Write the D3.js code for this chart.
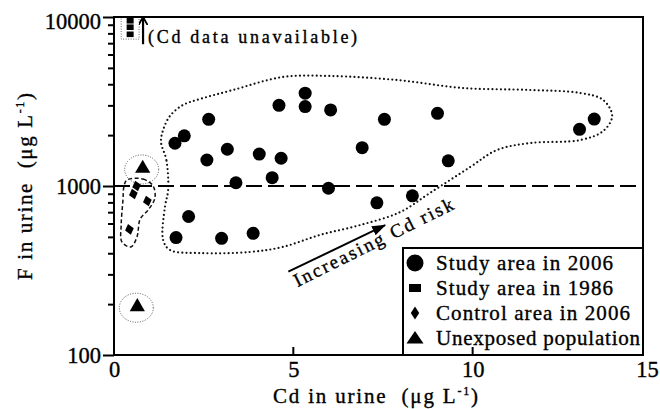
<!DOCTYPE html>
<html>
<head>
<meta charset="utf-8">
<script src="https://cdn.jsdelivr.net/npm/d3@7"></script>
<style>
  body { margin: 0; background: #fff; }
  svg { display: block; }
  svg text { font-family: "Liberation Serif", "DejaVu Serif", serif; fill: #000; stroke: #000; stroke-width: 0.35px; }
</style>
</head>
<body>
<div id="chart"></div>
<script>
// study area in 2006 (circles)
const studyCd2006 = [1.70, 1.96, 2.64, 2.59, 3.16, 3.40, 4.05, 4.66, 4.41, 4.60, 5.33, 5.33, 6.04,
  7.54, 9.02, 6.92, 9.32, 5.98, 7.33, 8.32, 2.08, 1.73, 3.00, 3.88, 13.39, 12.98]
const studyF2006 = [1790, 1980, 2480, 1425, 1650, 1045, 1545, 1460, 1120, 3000, 3540, 2950, 2820,
  2480, 2690, 1685, 1410, 970, 795, 875, 660, 495, 490, 525, 2490, 2165]

// study area in 1986 (squares, no Cd data)
const studyCd1986 = [0.45, 0.45, 0.45]
const studyF1986 = [9500, 8700, 7900]

// control area in 2006 (diamonds)
const controlCd = [0.54, 0.63, 0.93, 0.43]
const controlF = [897, 1000, 815, 554]

// unexposed population (triangles)
const unexposedCd = [0.80, 0.65]
const unexposedF = [1270, 193]

// hand drawn outlines, in data units
const studyHullCd = [1.51, 1.46, 1.31, 1.37, 1.56, 1.92, 2.40, 3.32, 4.71, 6.02, 7.89, 9.73, 11.60, 13.00,
  13.64, 13.89, 13.64, 13.00, 11.60, 10.68, 9.93, 8.81, 7.98, 6.86, 5.74, 4.71, 3.79, 2.40, 1.56, 1.37, 1.42]
const studyHullF = [946, 1425, 1820, 2143, 2595, 3013, 3271, 3700, 4416, 4477, 4238, 3800, 3700, 3550,
  3228, 2595, 2114, 1870, 1795, 1633, 1294, 909, 701, 587, 513, 436, 407, 401, 418, 479, 751]
const controlHullCd = [0.36, 0.81, 1.09, 1.14, 0.95, 0.73, 0.64, 0.47, 0.22, 0.20, 0.25, 0.28]
const controlHullF = [1085, 1099, 1000, 849, 721, 638, 499, 436, 467, 587, 826, 1000]

const xTicks = [0, 5, 10, 15]
const yMajor = [100, 1000, 10000]
const yMinor = [200, 300, 400, 500, 600, 700, 800, 900, 2000, 3000, 4000, 5000, 6000, 7000, 8000, 9000]
const thresholdF = 1000

const legendLabels = ["Study area in 2006", "Study area in 1986", "Control area in 2006", "Unexposed population"]
const legendWidths = [177, 177, 194, 204]

const width = 660, height = 409
const serif = "Liberation Serif, DejaVu Serif, serif"

const x = d3.scaleLinear().domain([0, 14.75]).range([114, 643])
const y = d3.scaleLog().domain([100, 10000]).range([355, 17])

const svg = d3.select("#chart").append("svg")
  .attr("width", width)
  .attr("height", height)
  .attr("font-family", serif)

const defs = svg.append("defs")
defs.append("marker")
  .attr("id", "head")
  .attr("viewBox", "0 -5 14 10")
  .attr("refX", 13)
  .attr("refY", 0)
  .attr("markerUnits", "userSpaceOnUse")
  .attr("markerWidth", 14)
  .attr("markerHeight", 10)
  .attr("orient", "auto")
  .append("path")
  .attr("d", "M0,-5L14,0L0,5Z")
  .attr("fill", "#000")
defs.append("marker")
  .attr("id", "headSmall")
  .attr("viewBox", "0 -4.5 8 9")
  .attr("refX", 7)
  .attr("refY", 0)
  .attr("markerUnits", "userSpaceOnUse")
  .attr("markerWidth", 8)
  .attr("markerHeight", 9)
  .attr("orient", "auto")
  .append("path")
  .attr("d", "M0,-4.5L8,0L0,4.5")
  .attr("fill", "none")
  .attr("stroke", "#000")
  .attr("stroke-width", 1.8)

// outlines

const hull = d3.line()
  .x(d => x(d[0]))
  .y(d => y(d[1]))
  .curve(d3.curveCatmullRomClosed.alpha(0.5))

svg.append("path")
  .attr("d", hull(d3.zip(studyHullCd, studyHullF)))
  .attr("fill", "none")
  .attr("stroke", "#111")
  .attr("stroke-width", 2.2)
  .attr("stroke-linecap", "round")
  .attr("stroke-dasharray", "0,4.2")

svg.append("path")
  .attr("d", hull(d3.zip(controlHullCd, controlHullF)))
  .attr("fill", "none")
  .attr("stroke", "#111")
  .attr("stroke-width", 1.5)
  .attr("stroke-dasharray", "4,2.5")

svg.selectAll(".ring")
  .data(d3.zip(unexposedCd, unexposedF))
  .join("ellipse")
  .attr("class", "ring")
  .attr("cx", d => x(d[0]) - 1)
  .attr("cy", d => y(d[1]) + 1)
  .attr("rx", 17)
  .attr("ry", 14.5)
  .attr("fill", "none")
  .attr("stroke", "#555")
  .attr("stroke-width", 1)
  .attr("stroke-dasharray", "1,1.5")

svg.append("rect")
  .attr("x", x(0.2))
  .attr("y", y(10000))
  .attr("width", x(0.7) - x(0.2))
  .attr("height", y(7400) - y(10000))
  .attr("fill", "none")
  .attr("stroke", "#666")
  .attr("stroke-width", 1)
  .attr("stroke-dasharray", "1,1.5")

// threshold line

svg.append("line")
  .attr("x1", x(0))
  .attr("x2", x(14.75))
  .attr("y1", y(thresholdF))
  .attr("y2", y(thresholdF))
  .attr("stroke", "#000")
  .attr("stroke-width", 2)
  .attr("stroke-dasharray", "16,6")

// points

svg.append("g")
  .selectAll("circle")
  .data(d3.zip(studyCd2006, studyF2006))
  .join("circle")
  .attr("cx", d => x(d[0]))
  .attr("cy", d => y(d[1]))
  .attr("r", 6.5)
  .attr("fill", "#000")

svg.append("g")
  .selectAll("rect")
  .data(d3.zip(studyCd1986, studyF1986))
  .join("rect")
  .attr("x", d => x(d[0]) - 3.5)
  .attr("y", d => y(d[1]) - 2.8)
  .attr("width", 7)
  .attr("height", 5.6)
  .attr("fill", "#000")

const diamond = (w, h) => `M0,${-h}L${w},0L0,${h}L${-w},0Z`

svg.append("g")
  .selectAll("path")
  .data(d3.zip(controlCd, controlF))
  .join("path")
  .attr("transform", d => `translate(${x(d[0])},${y(d[1])}) rotate(-15)`)
  .attr("d", diamond(4.5, 5.5))
  .attr("fill", "#000")

svg.append("g")
  .selectAll("path")
  .data(d3.zip(unexposedCd, unexposedF))
  .join("path")
  .attr("transform", d => `translate(${x(d[0])},${y(d[1])})`)
  .attr("d", d3.symbol(d3.symbolTriangle, 100))
  .attr("fill", "#000")

// annotations

svg.append("line")
  .attr("x1", x(0.81))
  .attr("x2", x(0.81))
  .attr("y1", y(6900))
  .attr("y2", y(10000) + 1)
  .attr("stroke", "#000")
  .attr("stroke-width", 2.2)
  .attr("marker-end", "url(#headSmall)")

svg.append("text")
  .attr("x", x(0.95))
  .attr("y", y(7050))
  .attr("font-size", 18)
  .attr("textLength", 209)
  .attr("lengthAdjust", "spacing")
  .text("(Cd data unavailable)")

svg.append("line")
  .attr("x1", x(4.86))
  .attr("y1", y(311))
  .attr("x2", x(7.56))
  .attr("y2", y(587))
  .attr("stroke", "#000")
  .attr("stroke-width", 2)
  .attr("marker-end", "url(#head)")

svg.append("text")
  .attr("transform", `translate(${x(7.31)},${y(430)}) rotate(-26.5)`)
  .attr("text-anchor", "middle")
  .attr("font-size", 19)
  .attr("textLength", 176)
  .attr("lengthAdjust", "spacing")
  .text("Increasing Cd risk")

// legend

const legend = svg.append("g")
legend.append("rect")
  .attr("x", 403)
  .attr("y", 248)
  .attr("width", 240)
  .attr("height", 107)
  .attr("fill", "#fff")
  .attr("stroke", "#000")
  .attr("stroke-width", 2)

const legendSymbols = [
  g => g.append("circle").attr("r", 8.5),
  g => g.append("rect").attr("x", -6).attr("y", -4).attr("width", 12).attr("height", 8),
  g => g.append("path").attr("d", diamond(4.2, 6.5)),
  g => g.append("path").attr("d", "M0,-7L8.5,5.5L-8.5,5.5Z")
]

legendLabels.forEach((label, i) => {
  const row = legend.append("g").attr("transform", `translate(415,${263 + i * 25})`)
  legendSymbols[i](row).attr("fill", "#000")
  row.append("text")
    .attr("x", 21)
    .attr("dy", "0.35em")
    .attr("font-size", 21)
    .attr("textLength", legendWidths[i])
    .attr("lengthAdjust", "spacing")
    .text(label)
})

// axes

svg.append("rect")
  .attr("x", x(0))
  .attr("y", y(10000))
  .attr("width", x(14.75) - x(0))
  .attr("height", y(100) - y(10000))
  .attr("fill", "none")
  .attr("stroke", "#000")
  .attr("stroke-width", 2)

const yMinorAxis = svg.append("g")
  .attr("transform", `translate(${x(0)},0)`)
  .call(d3.axisLeft(y).tickValues(yMinor).tickSize(6).tickFormat(""))
yMinorAxis.select(".domain").remove()
yMinorAxis.selectAll("line").attr("stroke-width", 2)

const yAxis = svg.append("g")
  .attr("transform", `translate(${x(0)},0)`)
  .call(d3.axisLeft(y).tickValues(yMajor).tickSize(11).tickPadding(2).tickFormat(d3.format("d")))
yAxis.attr("font-family", serif).attr("font-size", 22.5)
yAxis.select(".domain").remove()
yAxis.selectAll("line").attr("stroke-width", 2)
yAxis.selectAll("text").filter(d => d === 10000).attr("dy", "0.5em")

const xAxis = svg.append("g")
  .attr("transform", `translate(0,${y(100)})`)
  .call(d3.axisBottom(x).tickValues(xTicks).tickSize(0).tickPadding(6).tickFormat(d3.format("d")))
xAxis.attr("font-family", serif).attr("font-size", 22.5)
xAxis.select(".domain").remove()
// keep the last label inside the page
xAxis.selectAll("text").filter(d => d === 15).attr("x", -5)

svg.append("g")
  .selectAll("line")
  .data(xTicks.slice(1, 3))
  .join("line")
  .attr("x1", d => x(d))
  .attr("x2", d => x(d))
  .attr("y1", y(100))
  .attr("y2", y(100) - 8)
  .attr("stroke", "#000")
  .attr("stroke-width", 2)

// axis titles

const xTitle = svg.append("text")
  .attr("x", 375.5)
  .attr("y", 403)
  .attr("text-anchor", "middle")
  .attr("font-size", 21)
  .attr("textLength", 205)
  .attr("lengthAdjust", "spacing")
xTitle.append("tspan").text("Cd in urine\u00a0\u00a0(\u03bcg L")
xTitle.append("tspan").attr("font-size", 12).attr("dy", -8).text("-1")
xTitle.append("tspan").attr("dy", 8).text(")")

const yTitle = svg.append("text")
  .attr("transform", "translate(31.5,186.5) rotate(-90)")
  .attr("text-anchor", "middle")
  .attr("font-size", 21)
  .attr("textLength", 187)
  .attr("lengthAdjust", "spacing")
yTitle.append("tspan").text("F in urine\u00a0\u00a0(\u03bcg L")
yTitle.append("tspan").attr("font-size", 12).attr("dy", -8).text("-1")
yTitle.append("tspan").attr("dy", 8).text(")")
</script>
</body>
</html>
